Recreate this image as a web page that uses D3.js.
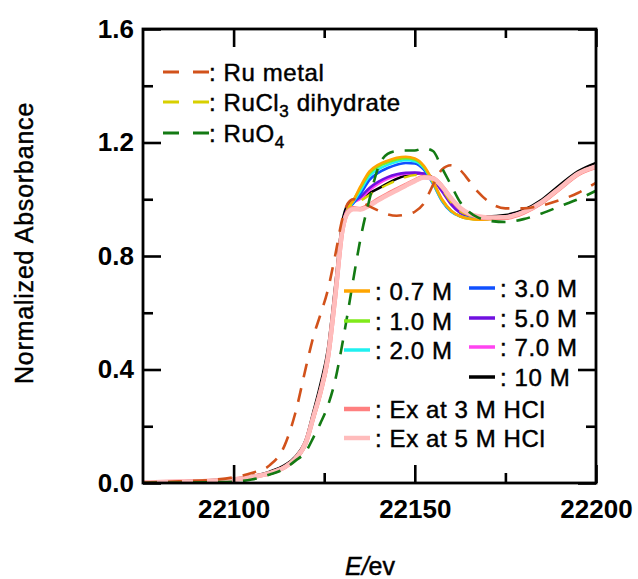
<!DOCTYPE html>
<html><head><meta charset="utf-8">
<script src="https://cdn.jsdelivr.net/npm/d3@7"></script>
<style>
html,body{margin:0;padding:0;background:#fff;}
svg{display:block;}
text{font-family:"Liberation Sans",Arial,sans-serif;fill:#000;}
.heavy{stroke:#000;stroke-width:0.45px;}
</style></head>
<body>
<svg id="chart" width="638" height="579"></svg>
<script>
// ---- data ----
const energy = [22075,22085,22095,22100,22105,22110,22114,22117,22120,22122,22124,22126,22128,22130,22131.5,22133,22135,22137.5,22140,22142.5,22145,22147.5,22150,22152.5,22155,22157.5,22160,22162.5,22165,22167.5,22170,22175,22180,22185,22190,22195,22200];

const ruMetal = [0.002,0.006,0.012,0.02,0.035,0.063,0.13,0.245,0.41,0.515,0.595,0.68,0.80,0.93,0.985,1.0,0.992,0.975,0.96,0.947,0.942,0.946,0.956,0.985,1.05,1.105,1.12,1.103,1.065,1.025,0.995,0.968,0.968,0.978,0.997,1.022,1.058];
const ruCl3 = [0.001,0.003,0.007,0.011,0.02,0.034,0.054,0.082,0.14,0.228,0.318,0.435,0.65,0.89,0.962,0.985,0.995,1.015,1.035,1.052,1.066,1.078,1.085,1.086,1.072,1.036,0.99,0.958,0.943,0.936,0.934,0.937,0.954,0.988,1.037,1.087,1.113];
const ruO4 = [0.0,0.001,0.003,0.005,0.012,0.03,0.05,0.078,0.112,0.16,0.212,0.272,0.36,0.49,0.60,0.715,0.86,1.0,1.115,1.16,1.17,1.172,1.172,1.18,1.17,1.11,1.05,0.99,0.955,0.935,0.925,0.92,0.93,0.95,0.975,1.0,1.03];

const m07 = [0.001,0.003,0.007,0.011,0.02,0.034,0.054,0.082,0.14,0.225,0.315,0.43,0.645,0.89,0.965,0.995,1.045,1.098,1.122,1.136,1.146,1.15,1.144,1.118,1.064,1.0,0.96,0.94,0.931,0.928,0.929,0.934,0.952,0.986,1.036,1.086,1.113];
const m10 = [0.001,0.003,0.007,0.011,0.02,0.034,0.054,0.082,0.14,0.225,0.315,0.43,0.645,0.89,0.965,0.995,1.04,1.092,1.116,1.13,1.14,1.145,1.14,1.114,1.06,0.998,0.96,0.94,0.931,0.929,0.93,0.935,0.953,0.987,1.037,1.087,1.114];
const m20 = [0.001,0.003,0.007,0.011,0.02,0.034,0.054,0.082,0.14,0.228,0.318,0.435,0.65,0.89,0.963,0.99,1.03,1.082,1.106,1.121,1.132,1.138,1.134,1.11,1.058,0.996,0.958,0.94,0.932,0.93,0.931,0.936,0.954,0.988,1.038,1.088,1.115];
const m30 = [0.001,0.003,0.007,0.011,0.02,0.034,0.054,0.083,0.142,0.23,0.32,0.44,0.655,0.895,0.963,0.985,1.018,1.068,1.094,1.11,1.122,1.128,1.126,1.104,1.055,0.994,0.957,0.94,0.933,0.931,0.932,0.937,0.955,0.989,1.039,1.089,1.116];
const m50 = [0.001,0.003,0.008,0.012,0.021,0.036,0.056,0.085,0.145,0.235,0.325,0.445,0.66,0.9,0.968,0.99,1.008,1.04,1.062,1.078,1.088,1.093,1.094,1.09,1.07,1.028,0.982,0.952,0.94,0.935,0.934,0.938,0.956,0.99,1.04,1.09,1.117];
const m70 = [0.001,0.003,0.008,0.012,0.021,0.036,0.056,0.085,0.145,0.235,0.325,0.445,0.66,0.9,0.968,0.988,1.002,1.032,1.055,1.072,1.084,1.09,1.092,1.089,1.07,1.03,0.985,0.955,0.942,0.936,0.935,0.939,0.957,0.991,1.041,1.091,1.118];
const m100 = [0.002,0.005,0.010,0.014,0.024,0.040,0.062,0.092,0.155,0.25,0.35,0.47,0.69,0.92,0.982,0.998,1.008,1.022,1.038,1.056,1.072,1.084,1.09,1.09,1.075,1.04,0.995,0.962,0.946,0.94,0.939,0.944,0.962,0.998,1.05,1.098,1.128];
const ex3 = [0.002,0.004,0.008,0.012,0.021,0.035,0.055,0.085,0.145,0.232,0.322,0.44,0.655,0.89,0.955,0.968,0.966,0.98,1.0,1.018,1.034,1.05,1.066,1.078,1.074,1.045,1.003,0.968,0.948,0.938,0.934,0.935,0.953,0.988,1.038,1.088,1.114];
const ex5 = [0.002,0.004,0.008,0.012,0.021,0.035,0.055,0.085,0.145,0.232,0.322,0.44,0.655,0.89,0.952,0.965,0.964,0.978,0.997,1.015,1.031,1.048,1.064,1.077,1.073,1.045,1.004,0.97,0.95,0.94,0.936,0.937,0.955,0.99,1.04,1.09,1.116];

const xMajorTicks = [22100,22150,22200];
const xMinorTicks = [22125,22175];
const yMajorTicks = [0,0.4,0.8,1.2,1.6];
const yMinorTicks = [0.2,0.6,1.0,1.4];

const refNames = ["Ru metal","RuCl3 dihydrate","RuO4"];
const concNames = ["0.7 M","1.0 M","2.0 M","3.0 M","5.0 M","7.0 M","10 M"];
const exNames = ["Ex at 3 M HCl","Ex at 5 M HCl"];

// ---- layout ----
const svg = d3.select("#chart");
const L = 143, R = 596, T = 29, B = 483;
const x = d3.scaleLinear().domain([22075,22200]).range([L,R]);
const y = d3.scaleLinear().domain([0,1.6]).range([B,T]);

const colors = {
  "Ru metal":"#d2521b","RuCl3 dihydrate":"#d8d000","RuO4":"#137a13",
  "0.7 M":"#ffa500","1.0 M":"#80ea1a","2.0 M":"#20f0f0","3.0 M":"#1050ff",
  "5.0 M":"#7010e0","7.0 M":"#ff44f0","10 M":"#000000",
  "Ex at 3 M HCl":"#ff8080","Ex at 5 M HCl":"#ffbcbc"
};
const concData = {"0.7 M":m07,"1.0 M":m10,"2.0 M":m20,"3.0 M":m30,"5.0 M":m50,"7.0 M":m70,"10 M":m100};
const exData = {"Ex at 3 M HCl":ex3,"Ex at 5 M HCl":ex5};

svg.append("defs").append("clipPath").attr("id","clip")
  .append("rect").attr("x",L).attr("y",T).attr("width",R-L).attr("height",B-T);

const line = d3.line().x((d,i)=>x(energy[i])).y(d=>y(d)).curve(d3.curveMonotoneX);
const plot = svg.append("g").attr("clip-path","url(#clip)");

["10 M","7.0 M","5.0 M","3.0 M","2.0 M","1.0 M","0.7 M"].forEach(n=>{
  plot.append("path").attr("d",line(concData[n])).attr("fill","none")
    .attr("stroke",colors[n]).attr("stroke-width",2.6);
});
plot.append("path").attr("d",line(ruCl3)).attr("fill","none")
  .attr("stroke",colors["RuCl3 dihydrate"]).attr("stroke-width",2.4).attr("stroke-dasharray","13,11");
exNames.forEach(n=>{
  plot.append("path").attr("d",line(exData[n])).attr("fill","none")
    .attr("stroke",colors[n]).attr("stroke-width",4.5);
});
plot.append("path").attr("d",line(ruMetal)).attr("fill","none")
  .attr("stroke",colors["Ru metal"]).attr("stroke-width",2.6).attr("stroke-dasharray","14,11");
plot.append("path").attr("d",line(ruO4)).attr("fill","none")
  .attr("stroke",colors["RuO4"]).attr("stroke-width",2.6).attr("stroke-dasharray","14,11");

// ---- axes ----
const fmtY = d3.format(".1f");
function styleAxis(g){ g.select(".domain").remove(); g.selectAll("line").attr("stroke","#000").attr("stroke-width",2.6); }

const axB = svg.append("g").attr("transform",`translate(0,${B})`)
  .call(d3.axisBottom(x).tickValues(xMajorTicks).tickSizeInner(-18).tickSizeOuter(0).tickPadding(17).tickFormat(d3.format("d")));
styleAxis(axB);
axB.selectAll("text").attr("font-size",26).attr("font-weight","bold");
const axBm = svg.append("g").attr("transform",`translate(0,${B})`)
  .call(d3.axisBottom(x).tickValues(xMinorTicks).tickSizeInner(-10).tickSizeOuter(0).tickFormat(""));
styleAxis(axBm);

const axT = svg.append("g").attr("transform",`translate(0,${T})`)
  .call(d3.axisTop(x).tickValues(xMajorTicks).tickSizeInner(-18).tickSizeOuter(0).tickFormat(""));
styleAxis(axT);
const axTm = svg.append("g").attr("transform",`translate(0,${T})`)
  .call(d3.axisTop(x).tickValues(xMinorTicks).tickSizeInner(-9).tickSizeOuter(0).tickFormat(""));
styleAxis(axTm);

const axL = svg.append("g").attr("transform",`translate(${L},0)`)
  .call(d3.axisLeft(y).tickValues(yMajorTicks).tickSizeInner(-18).tickSizeOuter(0).tickPadding(9).tickFormat(fmtY));
styleAxis(axL);
axL.selectAll("text").attr("font-size",26).attr("font-weight","bold");
const axLm = svg.append("g").attr("transform",`translate(${L},0)`)
  .call(d3.axisLeft(y).tickValues(yMinorTicks).tickSizeInner(-10).tickSizeOuter(0).tickFormat(""));
styleAxis(axLm);

const axR = svg.append("g").attr("transform",`translate(${R},0)`)
  .call(d3.axisRight(y).tickValues(yMajorTicks).tickSizeInner(-18).tickSizeOuter(0).tickFormat(""));
styleAxis(axR);
const axRm = svg.append("g").attr("transform",`translate(${R},0)`)
  .call(d3.axisRight(y).tickValues(yMinorTicks).tickSizeInner(-10).tickSizeOuter(0).tickFormat(""));
styleAxis(axRm);

svg.append("rect").attr("x",L).attr("y",T).attr("width",R-L).attr("height",B-T)
  .attr("fill","none").attr("stroke","#000").attr("stroke-width",2.8);

// axis titles
svg.append("text").attr("class","heavy").attr("transform","translate(33,243) rotate(-90)")
  .attr("text-anchor","middle").attr("font-size",25).attr("letter-spacing",0.8)
  .text("Normalized Absorbance");
const xt = svg.append("text").attr("class","heavy").attr("x",370).attr("y",575).attr("text-anchor","middle").attr("font-size",25);
xt.append("tspan").attr("font-style","italic").text("E");
xt.append("tspan").attr("font-style","italic").text("/");
xt.append("tspan").text("ev");

// ---- legends ----
const LF = 24, LS = 0.6;
const refRows = [72,102,133];
refNames.forEach((n,i)=>{
  const yy = refRows[i];
  svg.append("line").attr("x1",163).attr("x2",209).attr("y1",yy).attr("y2",yy)
    .attr("stroke",colors[n]).attr("stroke-width",3).attr("stroke-dasharray","16,14");
  const t = svg.append("text").attr("class","heavy").attr("x",209).attr("y",yy+8.5).attr("font-size",LF).attr("letter-spacing",LS);
  t.append("tspan").text(": ");
  if(n==="RuCl3 dihydrate"){
    t.append("tspan").text("RuCl");
    t.append("tspan").attr("font-size",17).attr("dy",6).text("3");
    t.append("tspan").attr("dy",-6).text(" dihydrate");
  } else if(n==="RuO4"){
    t.append("tspan").text("RuO");
    t.append("tspan").attr("font-size",17).attr("dy",6).text("4");
  } else t.append("tspan").text(n);
});

const concPos = {
  "0.7 M":[344,291],"1.0 M":[344,321],"2.0 M":[344,350],
  "3.0 M":[469,288],"5.0 M":[469,318],"7.0 M":[469,347],"10 M":[469,377]
};
concNames.forEach(n=>{
  const [lx,ly] = concPos[n];
  svg.append("line").attr("x1",lx).attr("x2",lx+26).attr("y1",ly).attr("y2",ly)
    .attr("stroke",colors[n]).attr("stroke-width",3.5);
  svg.append("text").attr("class","heavy").attr("x",lx+31).attr("y",ly+8.5).attr("font-size",LF).attr("letter-spacing",LS).text(": "+n);
});
const exRows = [409,438];
exNames.forEach((n,i)=>{
  const ly = exRows[i];
  svg.append("line").attr("x1",344).attr("x2",370).attr("y1",ly).attr("y2",ly)
    .attr("stroke",colors[n]).attr("stroke-width",4.5);
  svg.append("text").attr("class","heavy").attr("x",375).attr("y",ly+8.5).attr("font-size",LF).attr("letter-spacing",LS).text(": "+n);
});
</script>
</body></html>
